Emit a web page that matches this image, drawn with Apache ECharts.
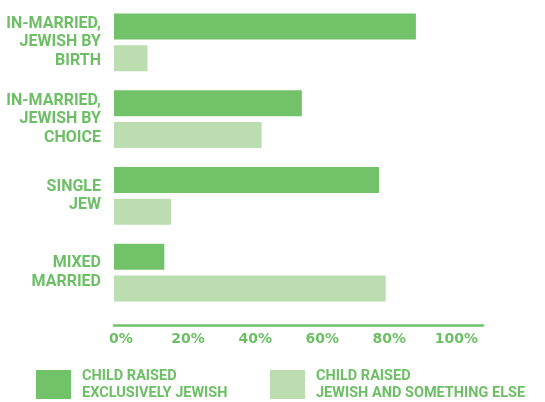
<!DOCTYPE html>
<html>
<head>
<meta charset="utf-8">
<script src="https://cdn.jsdelivr.net/npm/echarts@6/dist/echarts.min.js"></script>
<style>
  html, body { margin: 0; padding: 0; background: #ffffff; }
  #chart { width: 545px; height: 402px; }
</style>
</head>
<body>
<div id="chart"></div>
<script>
// Household types (top to bottom)
const categories = [
  'IN-MARRIED,\nJEWISH BY\nBIRTH',
  'IN-MARRIED,\nJEWISH BY\nCHOICE',
  'SINGLE\nJEW',
  'MIXED\nMARRIED'
];
// Share of children raised exclusively Jewish (%)
const exclusivelyJewish = [90, 56, 79, 15];
// Share of children raised Jewish and something else (%)
const jewishAndElse = [10, 44, 17, 81];
// Value axis ticks (%)
const tickValues = [0, 20, 40, 60, 80, 100];

const seriesNames = ['CHILD RAISED\nEXCLUSIVELY JEWISH', 'CHILD RAISED\nJEWISH AND SOMETHING ELSE'];

const DARK = '#72c26a';
const LIGHT = '#bbddb0';
const TEXT = '#6dbf66';
const LABEL_FONT = "Roboto, 'Noto Sans', sans-serif";
const TICK_FONT = "'DejaVu Sans', Verdana, sans-serif";

const chart = echarts.init(document.getElementById('chart'), null, { renderer: 'canvas' });

const legendText = {
  color: TEXT,
  fontFamily: LABEL_FONT,
  fontWeight: 'bold',
  fontSize: 14.5,
  lineHeight: 17,
  padding: [3, 0, 0, 6]
};

function legendAt(name, left) {
  return {
    data: [name],
    left: left,
    top: 366,
    padding: 0,
    itemWidth: 35,
    itemHeight: 29,
    icon: 'rect',
    selectedMode: false,
    textStyle: legendText
  };
}

chart.setOption({
  animation: false,
  backgroundColor: '#ffffff',
  grid: {
    left: 114, right: 62, top: 4, bottom: 91,
    containLabel: false,
    outerBoundsMode: 'none'
  },
  xAxis: {
    type: 'value',
    min: 0,
    max: 110,
    interval: 20,
    offset: 14,
    splitLine: { show: false },
    axisTick: { show: false },
    axisLine: { show: true, lineStyle: { color: DARK, width: 2.5 } },
    axisLabel: {
      showMaxLabel: false,
      color: TEXT,
      fontFamily: TICK_FONT,
      fontWeight: 'bold',
      fontSize: 14,
      margin: 7,
      padding: [0, 0, 0, 14],
      formatter: function (v) {
        return tickValues.indexOf(v) >= 0 ? v + '%' : '';
      }
    }
  },
  yAxis: {
    type: 'category',
    data: categories,
    inverse: true,
    axisLine: { show: false },
    axisTick: { show: false },
    axisLabel: {
      color: TEXT,
      fontFamily: LABEL_FONT,
      fontWeight: 'bold',
      fontSize: 16,
      lineHeight: 18.5,
      align: 'right',
      margin: 13,
      padding: [6, 0, 0, 0]
    }
  },
  legend: [legendAt(seriesNames[0], 36), legendAt(seriesNames[1], 270)],
  series: [
    {
      name: seriesNames[0],
      type: 'bar',
      data: exclusivelyJewish,
      barWidth: 26,
      barGap: '23%',
      itemStyle: { color: DARK }
    },
    {
      name: seriesNames[1],
      type: 'bar',
      data: jewishAndElse,
      barWidth: 26,
      barGap: '23%',
      itemStyle: { color: LIGHT }
    }
  ]
});
</script>
</body>
</html>
